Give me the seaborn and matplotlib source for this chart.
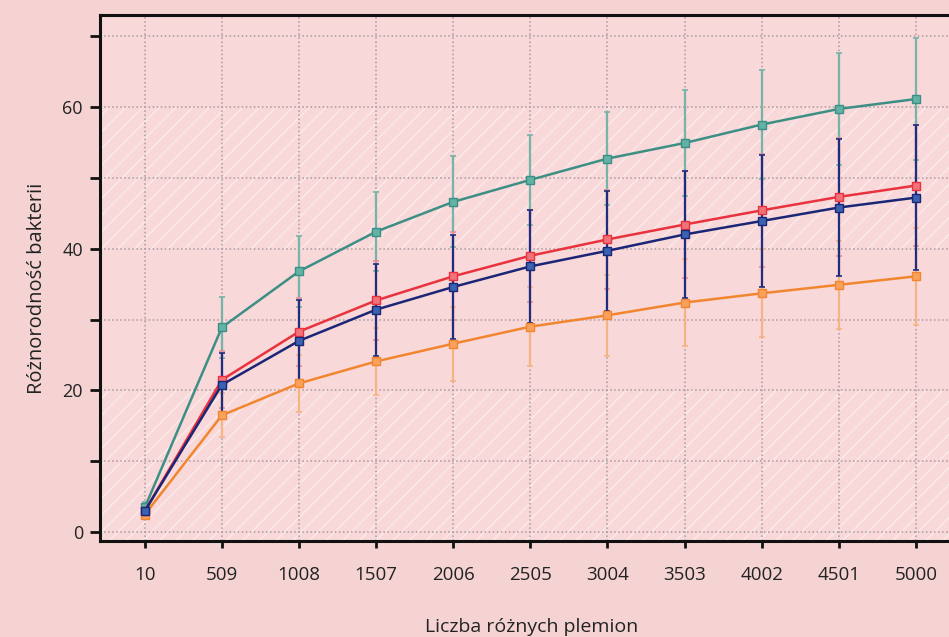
import numpy as np
import pandas as pd
import seaborn as sns
import matplotlib.pyplot as plt
from matplotlib.ticker import MultipleLocator

# data
plemiona = [10, 509, 1008, 1507, 2006, 2505, 3004, 3503, 4002, 4501, 5000]

teal_mean = [3.5, 28.9, 36.8, 42.4, 46.6, 49.7, 52.7, 54.9, 57.5, 59.7, 61.1]
teal_err = [0.8, 4.3, 5.0, 5.6, 6.4, 6.3, 6.6, 7.5, 7.7, 7.9, 8.6]

red_mean = [3.0, 21.5, 28.3, 32.7, 36.1, 39.0, 41.3, 43.4, 45.4, 47.3, 48.9]
red_err = [0.6, 4.0, 4.8, 5.6, 6.2, 6.5, 7.0, 7.5, 8.0, 8.3, 8.5]

blue_mean = [3.0, 20.8, 27.0, 31.4, 34.6, 37.5, 39.7, 42.0, 43.9, 45.8, 47.2]
blue_err = [0.6, 4.5, 5.7, 6.5, 7.3, 8.0, 8.5, 8.9, 9.3, 9.6, 10.2]

orange_mean = [2.5, 16.5, 21.0, 24.1, 26.6, 29.0, 30.6, 32.4, 33.7, 34.9, 36.1]
orange_err = [0.5, 3.1, 4.0, 4.7, 5.2, 5.6, 5.7, 6.1, 6.2, 6.2, 6.8]

# name -> (mean, err, line colour, marker fill, error bar colour)
series = {
    "teal": (teal_mean, teal_err, "#3d8f86", "#62b2a6", "#76b3a8"),
    "orange": (orange_mean, orange_err, "#f28630", "#f7a25c", "#f5b483"),
    "red": (red_mean, red_err, "#e8323e", "#f0727a", "#e3909a"),
    "blue": (blue_mean, blue_err, "#1b2677", "#3a62b0", "#1f2d80"),
}

rows = []
for name, (mean, err, *_rest) in series.items():
    for x, m, e in zip(plemiona, mean, err):
        rows.append({"plemiona": x, "value": m, "err": e, "seria": name})
df = pd.DataFrame(rows)

bg = "#f5d3d3"
sns.set_theme(style="white")
plt.rcParams["font.family"] = ["Open Sans", "DejaVu Sans"]
plt.rcParams["hatch.linewidth"] = 0.9

fig = plt.figure(figsize=(9.49, 6.37), dpi=100, facecolor=bg)
ax = fig.add_axes([0.105, 0.151, 0.895, 0.826])
ax.set_facecolor("#f8d8d8")

xlim = (-282, 5214)
ylim = (-1.2, 73)

# hatched bands
for lo, hi in [(ylim[0], 20), (40, 60)]:
    ax.fill_between(xlim, lo, hi, facecolor="none", edgecolor="#fcecec",
                    hatch="//", linewidth=0, zorder=0)

# error bars
for name, (mean, err, line_c, mark_c, err_c) in series.items():
    ax.errorbar(plemiona, mean, yerr=err, fmt="none", ecolor=err_c,
                elinewidth=1.6, capsize=2.5, capthick=1.2, zorder=2)

n_before = len(ax.lines)
palette = {k: v[2] for k, v in series.items()}
sns.lineplot(data=df, x="plemiona", y="value", hue="seria", palette=palette,
             marker="s", markersize=6, linewidth=1.8, legend=False, ax=ax, zorder=3)
for line, (name, vals) in zip(ax.lines[n_before:], series.items()):
    line.set_markerfacecolor(vals[3])
    line.set_markeredgecolor(vals[2])
    line.set_markeredgewidth(1.0)

ax.set_xlim(*xlim)
ax.set_ylim(*ylim)
ax.set_xticks(plemiona)
ax.set_xticklabels([str(p) for p in plemiona])
ax.yaxis.set_major_locator(MultipleLocator(20))
ax.yaxis.set_minor_locator(MultipleLocator(10))

ax.grid(True, which="both", axis="y", linestyle=":", color="#a99aa3", linewidth=1.1)
ax.grid(True, which="major", axis="x", linestyle=":", color="#a99aa3", linewidth=1.1)

for side in ["left", "bottom", "top"]:
    ax.spines[side].set_color("#111111")
    ax.spines[side].set_linewidth(2.2)
ax.spines["right"].set_visible(False)

ax.tick_params(axis="y", which="both", direction="out", length=7, width=2,
               color="#111111", labelsize=13, labelcolor="#222222", left=True, pad=5)
ax.tick_params(axis="x", which="major", direction="out", length=5, width=2,
               color="#111111", labelsize=13.5, labelcolor="#222222", bottom=True, pad=13)

ax.set_xlabel("")
ax.set_ylabel("Różnorodność bakterii", fontsize=14.5, color="#222222")
ax.yaxis.set_label_coords(-0.062, 0.48)
fig.text(532 / 949, 1 - 627 / 637, "Liczba różnych plemion", ha="center", va="center",
         fontsize=14, color="#222222")

fig.savefig("out.png", dpi=100, facecolor=bg)
